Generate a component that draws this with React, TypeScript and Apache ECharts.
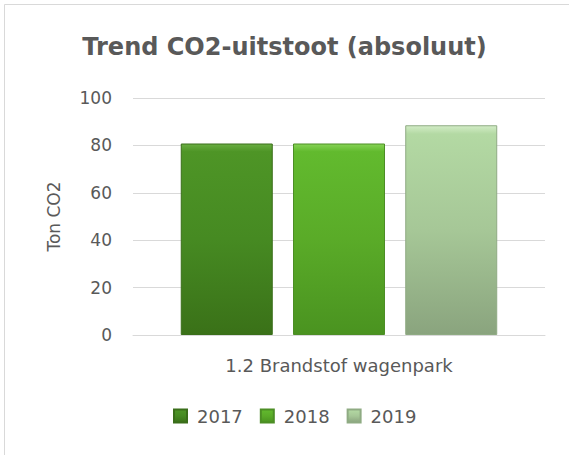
import React, { useEffect, useRef } from "react";
import * as echarts from "echarts";

const categories = ["1.2 Brandstof wagenpark"];
const seriesNames = ["2017", "2018", "2019"];
const values2017 = [80.8];
const values2018 = [80.8];
const values2019 = [88.5];
const yTicks = { min: 0, max: 100, interval: 20 };

const grad = (top: string, hi: string, mid: string, bottom: string) =>
  new echarts.graphic.LinearGradient(0, 0, 0, 1, [
    { offset: 0, color: hi },
    { offset: 0.04, color: top },
    { offset: 0.5, color: mid },
    { offset: 1, color: bottom },
  ]);

export default function App() {
  const ref = useRef<HTMLDivElement>(null);
  useEffect(() => {
    if (!ref.current) return;
    const chart = echarts.init(ref.current, undefined, { renderer: "svg" });
    const font = "'DejaVu Sans', 'Open Sans', sans-serif";
    const colors = [
      grad("#4e9526", "#6aae42", "#468a22", "#3a7118"),
      grad("#62ba2e", "#86d356", "#5aab28", "#4a9320"),
      grad("#b3d9a3", "#d2ecc6", "#a6c797", "#8aa47e"),
    ];
    const data = [values2017, values2018, values2019];
    chart.setOption({
      animation: false,
      backgroundColor: "#ffffff",
      textStyle: { fontFamily: font },
      title: {
        text: "Trend CO2-uitstoot (absoluut)",
        left: "center",
        top: 30,
        textStyle: { fontFamily: font, fontSize: 24, fontWeight: "bold", color: "#595959" },
      },
      graphic: [
        {
          type: "rect",
          shape: { x: 4.5, y: 4.5, width: 700, height: 700 },
          style: { fill: "none", stroke: "#d9d9d9", lineWidth: 1 },
          silent: true,
        },
      ],
      legend: {
        top: 402,
        left: 168,
        itemWidth: 13,
        itemHeight: 13,
        itemGap: 17,
        icon: "rect",
        textStyle: {
          fontFamily: font,
          fontSize: 18,
          color: "#595959",
          padding: [0, 0, 0, 5],
        },
        data: seriesNames,
      },
      grid: { left: 133, right: 24, top: 98, bottom: 120, containLabel: false },
      xAxis: {
        type: "category",
        data: categories,
        axisLine: { lineStyle: { color: "#d9d9d9" } },
        axisTick: { show: false },
        axisLabel: { fontFamily: font, fontSize: 18, color: "#595959", margin: 21 },
      },
      yAxis: {
        type: "value",
        min: yTicks.min,
        max: yTicks.max,
        interval: yTicks.interval,
        name: "Ton CO2",
        nameLocation: "middle",
        nameGap: 71,
        nameMoveOverlap: false,
        nameRotate: 90,
        nameTextStyle: { fontFamily: font, fontSize: 17, color: "#595959" },
        axisLine: { show: false },
        axisTick: { show: false },
        axisLabel: { fontFamily: font, fontSize: 17, color: "#595959", margin: 21 },
        splitLine: { lineStyle: { color: "#d9d9d9" } },
      },
      series: seriesNames.map((name, i) => ({
        name,
        type: "bar",
        data: data[i],
        barWidth: 92,
        barGap: "22%",
        itemStyle: {
          color: colors[i],
          borderColor: ["#3a6e1a", "#4c8e25", "#8fab83"][i],
          borderWidth: 1,
        },
      })),
    });
    return () => chart.dispose();
  }, []);
  return (
    <div
      ref={ref}
      style={{ position: "fixed", left: 0, top: 0, width: 569, height: 455 }}
    />
  );
}
